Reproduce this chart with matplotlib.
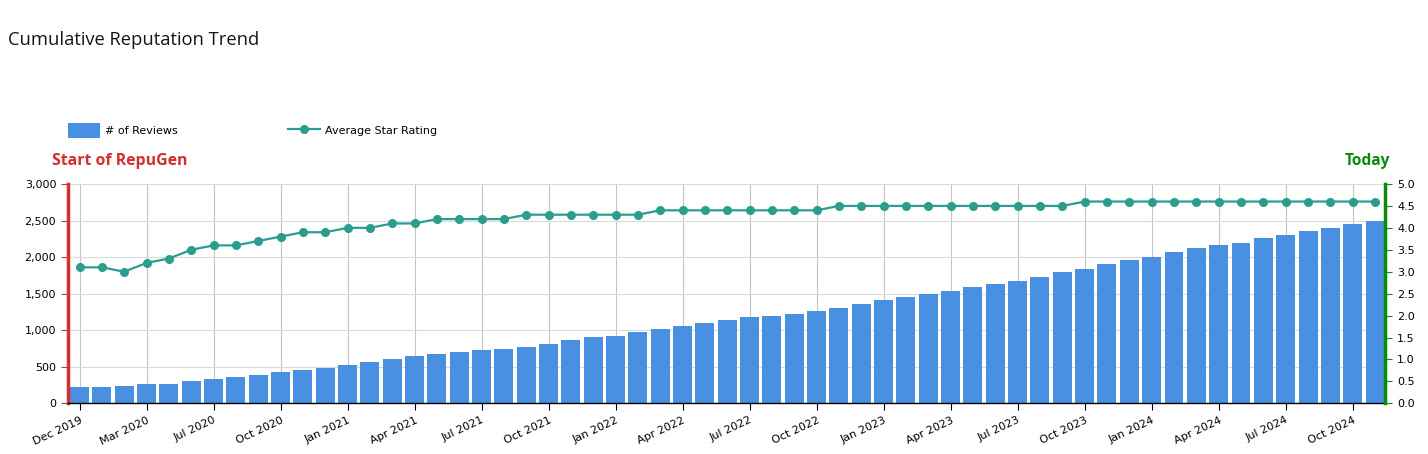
import matplotlib
matplotlib.use("Agg")
import matplotlib.pyplot as plt
import numpy as np
from matplotlib.ticker import FuncFormatter, MultipleLocator

months = ["Dec 2019", "Jan 2020", "Feb 2020", "Mar 2020", "Apr 2020", "May 2020", "Jun 2020", "Jul 2020",
          "Aug 2020", "Sep 2020", "Oct 2020", "Nov 2020", "Dec 2020", "Jan 2021", "Feb 2021", "Mar 2021",
          "Apr 2021", "May 2021", "Jun 2021", "Jul 2021", "Aug 2021", "Sep 2021", "Oct 2021", "Nov 2021",
          "Dec 2021", "Jan 2022", "Feb 2022", "Mar 2022", "Apr 2022", "May 2022", "Jun 2022", "Jul 2022",
          "Aug 2022", "Sep 2022", "Oct 2022", "Nov 2022", "Dec 2022", "Jan 2023", "Feb 2023", "Mar 2023",
          "Apr 2023", "May 2023", "Jun 2023", "Jul 2023", "Aug 2023", "Sep 2023", "Oct 2023", "Nov 2023",
          "Dec 2023", "Jan 2024", "Feb 2024", "Mar 2024", "Apr 2024", "May 2024", "Jun 2024", "Jul 2024",
          "Aug 2024", "Sep 2024", "Oct 2024"]

reviews = [223, 223, 237, 264, 264, 305, 333, 360, 388, 429, 456, 483, 524, 565, 606, 647,
           675, 702, 730, 743, 771, 812, 866, 907, 921, 976, 1017, 1058, 1099, 1140, 1181, 1195,
           1222, 1263, 1304, 1359, 1414, 1455, 1496, 1537, 1591, 1632, 1674, 1728, 1797, 1838,
           1906, 1961, 2002, 2070, 2125, 2166, 2193, 2262, 2303, 2358, 2398, 2453, 2494]

rating = [3.1, 3.1, 3.0, 3.2, 3.3, 3.5, 3.6, 3.6, 3.7, 3.8, 3.9, 3.9, 4.0, 4.0, 4.1, 4.1,
          4.2, 4.2, 4.2, 4.2, 4.3, 4.3, 4.3, 4.3, 4.3, 4.3, 4.4, 4.4, 4.4, 4.4, 4.4, 4.4,
          4.4, 4.4, 4.5, 4.5, 4.5, 4.5, 4.5, 4.5, 4.5, 4.5, 4.5, 4.5, 4.5, 4.6, 4.6, 4.6,
          4.6, 4.6, 4.6, 4.6, 4.6, 4.6, 4.6, 4.6, 4.6, 4.6, 4.6]

tick_labels = ["Dec 2019", "Mar 2020", "Jul 2020", "Oct 2020", "Jan 2021", "Apr 2021", "Jul 2021",
               "Oct 2021", "Jan 2022", "Apr 2022", "Jul 2022", "Oct 2022", "Jan 2023", "Apr 2023",
               "Jul 2023", "Oct 2023", "Jan 2024", "Apr 2024", "Jul 2024", "Oct 2024"]

BAR = "#4a90e2"
LINE = "#2a9d8f"
RED = "#d32f2f"
GREEN = "#0a8a0a"

fig = plt.figure(figsize=(14.28, 4.54), dpi=100)
ax = fig.add_axes([68/1428, 50.7/454, (1385.3-68)/1428, (403.3-184)/454])
x = np.arange(len(months))
bars = ax.bar(x, reviews, width=0.85, color=BAR, zorder=2, label="# of Reviews")
ax.set_xlim(-0.515, 58.46)
ax.set_ylim(0, 3000)
ax.yaxis.set_major_locator(MultipleLocator(500))
ax.yaxis.set_major_formatter(FuncFormatter(lambda v, p: f"{int(v):,}"))
ax.set_xticks(x[::3][:len(tick_labels)])
ax.set_xticklabels(tick_labels, rotation=25, ha="right", rotation_mode="anchor", fontsize=8)
ax.tick_params(axis="y", labelsize=8, colors="black", length=5)
ax.tick_params(axis="y", color=RED)
ax.tick_params(axis="x", length=5)
ax.set_axisbelow(True)
ax.grid(True, axis="y", color="#dadada", linewidth=0.8, zorder=0)
ax.grid(True, axis="x", color="#c4c4c4", linewidth=0.8, zorder=0)
ax.spines["top"].set_visible(False)
ax.spines["left"].set_color(RED)
ax.spines["left"].set_linewidth(2.5)
ax.spines["right"].set_visible(False)
ax.spines["bottom"].set_color("black")
ax.spines["bottom"].set_linewidth(1.0)

ax2 = ax.twinx()
line, = ax2.plot(x, rating, color=LINE, linewidth=1.6, marker="o", markersize=5.5, zorder=3,
                 label="Average Star Rating")
ax2.set_ylim(0, 5)
ax2.yaxis.set_major_locator(MultipleLocator(0.5))
ax2.yaxis.set_major_formatter(FuncFormatter(lambda v, p: f"{v:.1f}"))
ax2.tick_params(axis="y", labelsize=8, labelcolor="black", color=GREEN, length=5)
ax2.spines["right"].set_color(GREEN)
ax2.spines["right"].set_linewidth(2.5)
for s in ["top", "left", "bottom"]:
    ax2.spines[s].set_visible(False)

fig.legend([bars, line], ["# of Reviews", "Average Star Rating"], loc="center left",
           bbox_to_anchor=(66/1428, 1 - 130.5/454), ncol=2, frameon=False, fontsize=8,
           handlelength=2.9, handleheight=1.6, handletextpad=0.45, columnspacing=9.9,
           borderaxespad=0, borderpad=0.2)

fig.text(8/1428, 1 - 40/454, "Cumulative Reputation Trend", fontsize=13.2, family="Open Sans",
         fontweight="medium", va="center", ha="left", color="#151515")
fig.text(52/1428, 1 - 161/454, "Start of RepuGen", fontsize=11.4, family="Open Sans",
         fontweight="bold", color=RED, va="center", ha="left")
fig.text(1390/1428, 1 - 161/454, "Today", fontsize=11.2, family="Open Sans",
         fontweight="bold", color=GREEN, va="center", ha="right")

fig.savefig("out.png", dpi=100)
